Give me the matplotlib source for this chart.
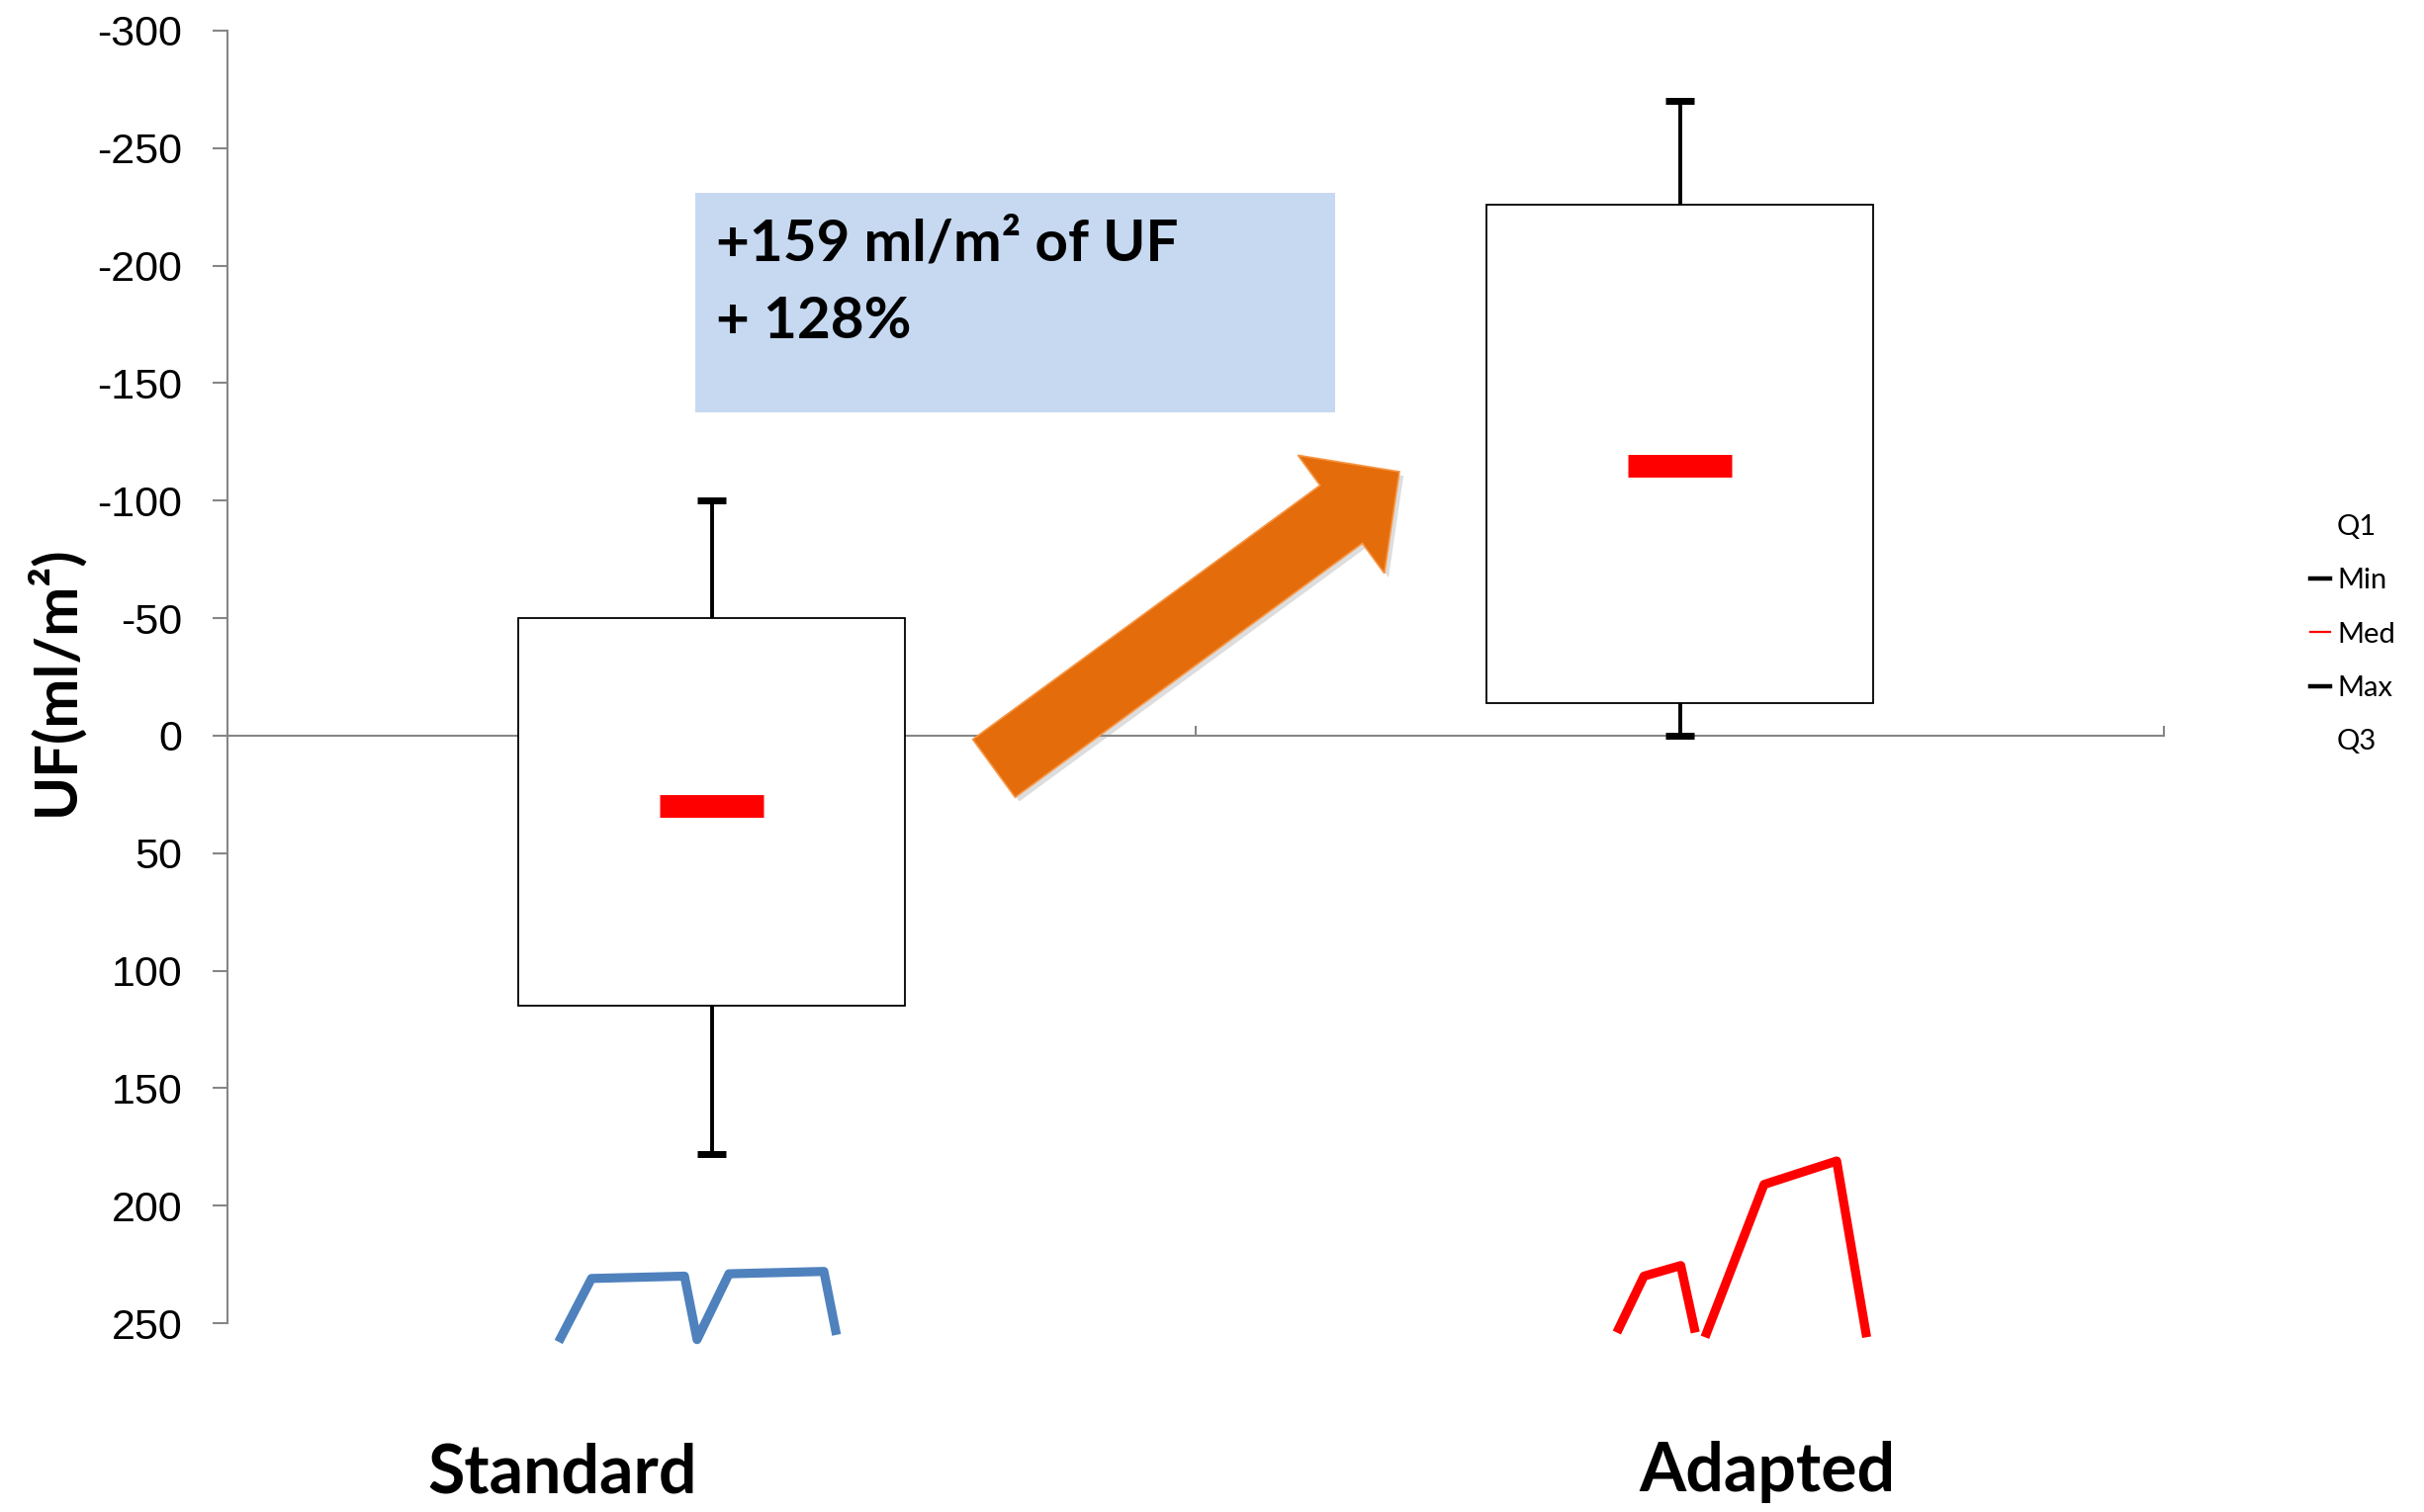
import matplotlib
matplotlib.use("Agg")
import matplotlib.pyplot as plt
from matplotlib.patches import Rectangle, FancyArrow
from matplotlib.lines import Line2D
import matplotlib.patheffects as pe

# ---- data -------------------------------------------------------------
categories = ["Standard", "Adapted"]
positions = [0.5, 1.5]
whisker_min = [-100, -270]
box_q1 = [-50, -226]
median = [30, -115]
box_q3 = [115, -14]
whisker_max = [178, 0]

y_ticks = [-300, -250, -200, -150, -100, -50, 0, 50, 100, 150, 200, 250]
y_ticklabels = [str(v) for v in y_ticks]

legend_labels = ["Q1", "Min", "Med", "Max", "Q3"]

# small profile traces drawn under each group
standard_trace_x = [0.342, 0.376, 0.472, 0.485, 0.518, 0.616, 0.629]
standard_trace_y = [258, 231, 230, 257, 229, 228, 255]
adapted_trace1_x = [1.435, 1.463, 1.501, 1.516]
adapted_trace1_y = [254, 230, 225.5, 254]
adapted_trace2_x = [1.526, 1.587, 1.662, 1.693]
adapted_trace2_y = [256, 191, 181, 256]

note_lines = ["+159 ml/m\u00b2 of UF", "+ 128%"]

# ---- style ------------------------------------------------------------
plt.rcParams["axes.unicode_minus"] = False
LABEL_FONT = ["Lato", "DejaVu Sans"]
TICK_FONT = ["Liberation Sans", "DejaVu Sans"]
GREY = "#868686"

W, H = 2451, 1529
fig = plt.figure(figsize=(W / 100, H / 100), dpi=100)
ax = fig.add_axes([230 / W, 1 - 1338 / H, (2188 - 230) / W, (1338 - 31) / H])

ax.set_xlim(0, 2)
ax.set_ylim(250, -300)

# axes styling
for s in ("top", "right"):
    ax.spines[s].set_visible(False)
ax.spines["left"].set_color(GREY)
ax.spines["left"].set_linewidth(1.5)
ax.spines["bottom"].set_position(("data", 0))
ax.spines["bottom"].set_color(GREY)
ax.spines["bottom"].set_linewidth(1.5)

ax.set_yticks(y_ticks)
ax.set_yticklabels(y_ticklabels, fontfamily=TICK_FONT, fontsize=31)
ax.tick_params(axis="y", direction="out", length=11, width=1.5, color=GREY, pad=22)
ax.set_xticks([0, 1, 2])
ax.set_xticklabels([])
ax.tick_params(axis="x", direction="in", length=7, width=1.5, color=GREY)

# ---- boxes ------------------------------------------------------------
box_w = 0.4
cap_half = 0.0148
med_half = 0.0536
for p, lo, q1, md, q3, hi in zip(positions, whisker_min, box_q1, median, box_q3, whisker_max):
    ax.add_patch(Rectangle((p - box_w / 2, q1), box_w, q3 - q1,
                           facecolor="white", edgecolor="black", linewidth=1.3, zorder=3))
    ax.vlines(p, lo, q1, color="black", linewidth=2.8, zorder=3)
    ax.vlines(p, q3, hi, color="black", linewidth=2.8, zorder=3)
    ax.hlines([lo, hi], p - cap_half, p + cap_half, color="black",
              linewidth=5, capstyle="butt", zorder=4)
    ax.hlines(md, p - med_half, p + med_half, color="#FF0000",
              linewidth=16.5, capstyle="butt", zorder=4)

# ---- profile traces -----------------------------------------------------
trace_kw = dict(linewidth=6.6, solid_joinstyle="round", solid_capstyle="butt",
                clip_on=False, zorder=4)
ax.plot(standard_trace_x, standard_trace_y, color="#4F81BD", **trace_kw)
ax.plot(adapted_trace1_x, adapted_trace1_y, color="#FF0000", **trace_kw)
ax.plot(adapted_trace2_x, adapted_trace2_y, color="#FF0000", **trace_kw)

# ---- legend -------------------------------------------------------------
handles = [
    Line2D([], [], color="none"),
    Line2D([], [], color="black", linewidth=3.2),
    Line2D([], [], color="#FF0000", linewidth=1.6),
    Line2D([], [], color="black", linewidth=3.2),
    Line2D([], [], color="none"),
]
fig.legend(handles, legend_labels, loc="upper left",
           bbox_to_anchor=(2336 / W, 1 - 520 / H), frameon=False,
           prop={"family": LABEL_FONT, "size": 21},
           handlelength=0.68, handletextpad=0.25, labelspacing=0.97,
           borderpad=0, borderaxespad=0)

# ---- annotation box -------------------------------------------------------
fig.patches.append(Rectangle((703 / W, 1 - 417 / H), (1350 - 703) / W, (417 - 195) / H,
                             transform=fig.transFigure, facecolor="#C6D9F1",
                             edgecolor="none", zorder=1))
fig.text(724 / W, 1 - 264 / H, note_lines[0], fontfamily=LABEL_FONT,
         fontweight="bold", fontsize=42, va="baseline", ha="left", zorder=2)
fig.text(724 / W, 1 - 342 / H, note_lines[1], fontfamily=LABEL_FONT,
         fontweight="bold", fontsize=42, va="baseline", ha="left", zorder=2)

# ---- arrow ------------------------------------------------------------------
tail = (1005 / 100, (H - 777) / 100)
tip = (1415 / 100, (H - 477) / 100)
arrow = FancyArrow(tail[0], tail[1], tip[0] - tail[0], tip[1] - tail[1],
                   width=0.726, head_width=1.48, head_length=0.73,
                   length_includes_head=True, transform=fig.dpi_scale_trans,
                   facecolor="#E46C0A", edgecolor="#F79646", linewidth=1.2,
                   clip_on=False, zorder=6)
arrow.set_path_effects([pe.SimplePatchShadow(offset=(3, -3), shadow_rgbFace="#909090",
                                             alpha=0.3), pe.Normal()])
ax.add_patch(arrow)

# ---- labels -------------------------------------------------------------------
fig.text(55 / W, 1 - 688 / H, "UF(ml/m\u00b2)", rotation=90, ha="center", va="center",
         fontfamily=LABEL_FONT, fontweight="bold", fontsize=43)
fig.text(569 / W, 1 - 1510 / H, categories[0], ha="center", va="baseline",
         fontfamily=LABEL_FONT, fontweight="bold", fontsize=49)
fig.text(1787 / W, 1 - 1508 / H, categories[1], ha="center", va="baseline",
         fontfamily=LABEL_FONT, fontweight="bold", fontsize=49)

fig.savefig("out.png", dpi=100, facecolor="white")
